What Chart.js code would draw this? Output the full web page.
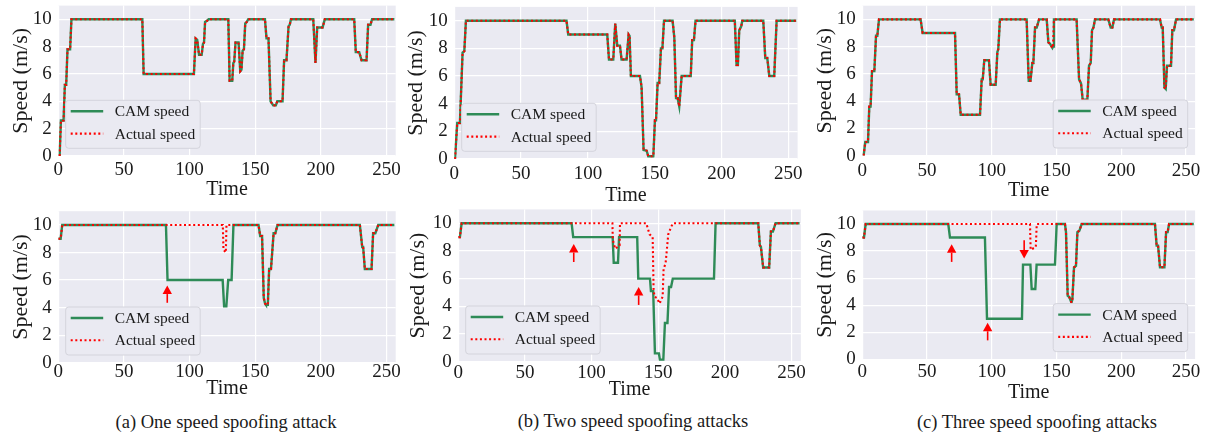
<!DOCTYPE html>
<html>
<head>
<meta charset="utf-8">
<script src="https://cdn.jsdelivr.net/npm/chart.js@4.4.0/dist/chart.umd.min.js"></script>
<style>
  body { margin: 0; background: #fff; width: 1206px; height: 434px; position: relative; overflow: hidden; font-family: "Liberation Serif", serif; }
  canvas { position: absolute; }
  .cap { position: absolute; font-size: 18.5px; color: #1a1a1a; transform: translate(-50%, -50%); white-space: nowrap; }
</style>
</head>
<body>
<div class="cap" style="left:226px;top:422px">(a) One speed spoofing attack</div>
<div class="cap" style="left:633px;top:421px">(b) Two speed spoofing attacks</div>
<div class="cap" style="left:1037px;top:422px">(c) Three speed spoofing attacks</div>
<script>
// tick labels
const timeTicks = [0, 50, 100, 150, 200, 250];
const speedTicks = [0, 2, 4, 6, 8, 10];

// top row: CAM speed and actual speed are the same trace
const topTimeA = [1,2,4,5,6,7,9,10,64,65,103.3,104.6,105.8,107.2,109.2,110.2,111,111.8,113.5,114.5,129.5,130.5,132.5,133.3,134,135,137.3,138.6,139.5,140.4,141.4,142.4,143.5,144.7,157.4,158.6,160.1,161.7,163.7,165.7,166.8,170.8,172,173.8,175.4,176.3,177.2,194.2,195.9,197.2,201.3,203,225.4,226.6,229.2,231,234.8,236,237.8,239,256];
const topSpeedA = [0,2.6,2.6,5.2,5.2,7.8,7.8,10,10,6,6,8.6,8.5,7.4,7.4,8.2,8.3,9.8,9.9,10,10,5.5,5.5,6.8,6.9,8.3,8.3,6.2,6.3,7.7,7.8,9.7,9.8,10,10,8.6,8.6,4.0,3.7,3.7,4.0,4.0,7.0,7.0,9.5,9.6,10,10,6.8,9.4,9.4,10,10,7.6,7.6,7.0,7.0,9.6,9.6,10,10];

const topTimeB = [0.5,2.2,4.2,6.2,7.5,8.7,84,85.3,114.5,115.8,119,120.5,122,124,125.2,129,130.5,131.2,132.2,139,140.2,141.7,144,145.2,149,150.2,151,152.2,153.4,154.7,155.8,157,163.4,164.7,166,167.2,168.4,170.2,177,178.1,179.4,180.6,210,211.3,212.3,213.3,214.8,215.6,231.3,232.8,234.3,235.8,239.5,241.3,256];
const topSpeedB = [0,2.6,2.6,7.7,7.8,10,10,9,9,7.2,7.2,9.8,8.2,8.2,7.2,7.2,9.0,8.9,6.0,6.0,5.2,0.65,0.6,0.2,0.2,2.8,2.8,5.5,5.5,8.0,8.0,10,10,8.8,4.4,4.4,3.8,6,6,8.6,8.6,10,10,6.8,6.8,9.3,9.6,10,10,7.3,7.3,6.0,6.0,10,10];

const topTimeC = [1,2.3,4.4,5.4,6.4,7.5,9.3,10.6,11.6,12.9,45,46.6,71.6,72.9,74.7,76,90.9,92.2,93,94.2,97.8,99.1,103,104.3,105,106.3,126.9,128.5,129.9,131.3,132.1,133.4,134.7,136.5,142.4,143.7,145,146.8,147.3,148,165.5,167.4,168.9,170.2,173.8,175.1,176.4,177.4,178.5,179.7,190,191.8,193.1,194.4,229.9,231.2,232,233.3,234.3,235.3,238.4,239.4,240.7,242.3,256];
const topSpeedC = [0,1.0,1.0,3.6,3.6,6.2,6.2,8.8,8.8,10,10,9,9,4.5,4.5,3.0,3.0,5.6,5.6,7.0,7.0,5.2,5.2,7.6,7.8,10,10,5.5,5.5,6.8,6.8,9.4,9.4,10,10,8.3,8.2,7.9,8.0,10,10,5.6,5.3,4.1,4.1,6.6,6.8,9.2,9.4,10,10,9.4,9.4,10,10,9.4,9.4,5.0,4.9,6.6,6.6,9.2,9.2,10,10];

// bottom row: spoofed CAM speed vs actual speed
const camTimeA = [0,1.8,3,82,83.2,125.2,126.3,128,129.4,132,133.4,152.5,153.8,155.2,156.5,157.5,158.2,159.6,160.6,162,164,165.3,167,229.7,231.5,232.2,233.5,238.6,239.8,241.5,243.7,256];
const camSpeedA = [9,9,10,10,6,6,4.1,4.1,6,6,10,10,9.2,9.2,4.7,4.3,4.2,4.2,6.8,6.8,9.4,9.4,10,10,8.4,8.4,6.8,6.8,9.4,9.4,10,10];
const actTimeA = [0,1.8,3,125.3,125.8,127.6,128.1,152.5,153.8,155.2,156.5,157.5,158.2,159.6,160.6,162,164,165.3,167,229.7,231.5,232.2,233.5,238.6,239.8,241.5,243.7,256];
const actSpeedA = [9,9,10,10,8.2,8.0,10,10,9.2,9.2,4.7,4.3,4.2,4.2,6.8,6.8,9.4,9.4,10,10,8.4,8.4,6.8,6.8,9.4,9.4,10,10];

const camTimeB = [0,1.2,2.5,85,86.2,115.8,116.6,119.8,120.6,134.2,135,143.8,144.5,146.2,147.5,150.5,151.2,153.8,155,156.9,158.1,159.6,160.9,191.8,193,225,226.2,227,228.7,233.2,234.5,236,238,256];
const camSpeedB = [9,9,10,10,9,9,7.15,7.15,9,9,6,6,5.1,5.1,0.6,0.6,0.15,0.15,2.8,2.8,5.4,5.4,6,6,10,10,8.4,8.3,6.8,6.8,9.4,9.4,10,10];
const actTimeB = [0,1.2,2.5,115.6,115.9,117.7,121,121.3,141,143.5,145.8,146.5,147.2,149,151,153.3,154,155.5,157.5,159.5,161,225,226.2,227,228.7,233.2,234.5,236,238,256];
const actSpeedB = [9,9,10,10,8.8,8.15,8.4,10,10,9.2,9.0,5.2,4.7,4.6,4.2,4.7,6.7,7.1,9.2,9.7,10,10,8.4,8.3,6.8,6.8,9.4,9.4,10,10];

const camTimeC = [0,1.3,2.6,66.4,67.7,94.7,96.3,123.3,124.1,129.8,130.8,133.6,134.6,148.8,150.1,156.5,157.3,158.6,159.8,161.5,162.2,163.5,165,166.1,167.6,169.4,226,227.3,228.4,229.9,233.3,234.6,235.8,236.9,256];
const camSpeedC = [9,9,10,10,9,9,3,3,7,7,5.2,5.2,7,7,10,10,9.4,4.7,4.6,4.2,4.4,6.8,6.9,9.4,9.5,10,10,8.4,8.4,6.8,6.8,9.4,9.4,10,10];
const actTimeC = [0,1.3,2.6,129.5,130,134,134.7,156.5,157.3,158.6,159.8,161.5,162.2,163.5,165,166.1,167.6,169.4,226,227.3,228.4,229.9,233.3,234.6,235.8,236.9,256];
const actSpeedC = [9,9,10,10,8.1,8.3,10,10,9.4,4.7,4.6,4.2,4.4,6.8,6.9,9.4,9.5,10,10,8.4,8.4,6.8,6.8,9.4,9.4,10,10];

// attack markers: [time, arrow tail speed, arrow tip speed]
const arrowsA = [[83, 4.35, 5.6]];
const arrowsB = [[86.6, 7.2, 8.5], [135.3, 4.1, 5.4]];
const arrowsC = [[69, 7.2, 8.5], [96.8, 1.4, 2.7], [125, 8.8, 7.45]];

const SERIF = "'Liberation Serif', serif";
const INK = '#1a1a1a';
const GREEN = '#2e8b57';
const RED = '#ff0000';
const T_MAX = 257, V_MAX = 11;

Chart.defaults.font.family = SERIF;
Chart.defaults.color = INK;

const pts = (t, v) => t.map((x, i) => ({x, y: v[i]}));

// plot-area geometry of each sub figure in page pixels
const panels = [
  {l:58.3,  r:395.7,  t:5.6,   b:156,   tickPad:2.6,  timeOff:34,   ytOff:36.6, side:'left',  cam:[topTimeA, topSpeedA], act:[topTimeA, topSpeedA], arrows:[]},
  {l:454.3, r:797.6,  t:6.9,   b:159,   tickPad:3.8,  timeOff:37,   ytOff:37.6, side:'left',  cam:[topTimeB, topSpeedB], act:[topTimeB, topSpeedB], arrows:[]},
  {l:862.3, r:1195.1, t:5.7,   b:155.7, tickPad:3.7,  timeOff:35.1, ytOff:37.3, side:'right', cam:[topTimeC, topSpeedC], act:[topTimeC, topSpeedC], arrows:[]},
  {l:58.3,  r:395.7,  t:211.2, b:362.7, tickPad:-2.4, timeOff:25.6, ytOff:36.6, side:'left',  cam:[camTimeA, camSpeedA], act:[actTimeA, actSpeedA], arrows:arrowsA},
  {l:458.3, r:800.9,  t:209.4, b:361.7, tickPad:0.2,  timeOff:28.3, ytOff:40,   side:'left',  cam:[camTimeB, camSpeedB], act:[actTimeB, actSpeedB], arrows:arrowsB},
  {l:862.3, r:1195.1, t:210.5, b:359.3, tickPad:1.8,  timeOff:33.2, ytOff:37.3, side:'right', cam:[camTimeC, camSpeedC], act:[actTimeC, actSpeedC], arrows:arrowsC},
];

const bgPlugin = {
  id: 'bg',
  beforeDraw(chart) {
    const {ctx, chartArea: a} = chart;
    ctx.save(); ctx.fillStyle = '#eaeaf2';
    ctx.fillRect(a.left, a.top, a.right - a.left, a.bottom - a.top);
    ctx.restore();
  }
};

function arrowPlugin(list) {
  return {
    id: 'arrows',
    afterDatasetsDraw(chart) {
      const {ctx, scales: {x, y}} = chart;
      ctx.save(); ctx.strokeStyle = RED; ctx.fillStyle = RED; ctx.lineWidth = 1.6;
      for (const [t, from, to] of list) {
        const px = x.getPixelForValue(t), y1 = y.getPixelForValue(from), y2 = y.getPixelForValue(to);
        const dir = Math.sign(y2 - y1), head = 8.5;
        ctx.beginPath(); ctx.moveTo(px, y1); ctx.lineTo(px, y2 - dir * head); ctx.stroke();
        ctx.beginPath(); ctx.moveTo(px, y2); ctx.lineTo(px - 4.7, y2 - dir * head); ctx.lineTo(px + 4.7, y2 - dir * head); ctx.closePath(); ctx.fill();
      }
      ctx.restore();
    }
  };
}

function legendPlugin(side) {
  return {
    id: 'insetLegend',
    afterDraw(chart) {
      const {ctx, chartArea: a} = chart;
      const ds = chart.data.datasets;
      ctx.save();
      ctx.font = '15.5px ' + SERIF;
      const tw = Math.max(...ds.map(d => ctx.measureText(d.label).width));
      const w = 49 + tw + 5, h = 48;
      const x0 = side === 'left' ? a.left + 7.4 : a.right - 7.4 - w;
      const y0 = a.bottom - 7.7 - h;
      ctx.beginPath(); ctx.roundRect(x0, y0, w, h, 3);
      ctx.fillStyle = '#eaeaf2'; ctx.fill();
      ctx.strokeStyle = '#d4d4dc'; ctx.lineWidth = 1; ctx.stroke();
      ds.forEach((d, i) => {
        const yy = y0 + 11 + i * 22.3;
        ctx.beginPath(); ctx.setLineDash(d.borderDash || []);
        ctx.strokeStyle = d.borderColor; ctx.lineWidth = d.borderWidth;
        ctx.moveTo(x0 + 5, yy); ctx.lineTo(x0 + 37.5, yy); ctx.stroke();
        ctx.setLineDash([]);
        ctx.fillStyle = INK; ctx.textBaseline = 'middle'; ctx.textAlign = 'left';
        ctx.fillText(d.label, x0 + 49, yy + 1);
      });
      ctx.restore();
    }
  };
}

function makePanel(p) {
  const cv = document.createElement('canvas');
  const left = Math.floor(p.l) - 60, top = Math.floor(p.t) - 6;
  const right = Math.ceil(p.r) + 14, bottom = Math.ceil(p.b + p.timeOff + 14);
  const W = right - left, H = bottom - top;
  cv.width = W; cv.height = H;
  cv.style.left = left + 'px'; cv.style.top = top + 'px';
  cv.style.width = W + 'px'; cv.style.height = H + 'px';
  document.body.appendChild(cv);
  const YW = p.l - left, XH = bottom - p.b;
  // drop the label overhang padding so the plot area lands exactly where planned
  const noPad = s => { s.paddingTop = 0; s.paddingBottom = 0; s.paddingLeft = 0; s.paddingRight = 0; };
  new Chart(cv, {
    type: 'line',
    data: {
      datasets: [
        {label: 'CAM speed', data: pts(...p.cam), borderColor: GREEN, borderWidth: 2.4, pointRadius: 0, tension: 0, order: 1},
        {label: 'Actual speed', data: pts(...p.act), borderColor: RED, borderWidth: 2.1, borderDash: [2, 2.6], pointRadius: 0, tension: 0, order: 0}
      ]
    },
    options: {
      responsive: false, animation: false, events: [],
      layout: {padding: {top: p.t - top, right: right - p.r, left: 0, bottom: 0}},
      scales: {
        x: {
          type: 'linear', min: 0, max: T_MAX,
          afterBuildTicks: s => { s.ticks = timeTicks.map(v => ({value: v})); },
          afterFit: s => { s.height = XH; noPad(s); },
          grid: {color: '#fff', lineWidth: 1.2, drawTicks: false},
          border: {display: false},
          ticks: {font: {family: SERIF, size: 19}, color: INK, padding: p.tickPad, maxRotation: 0, autoSkip: false},
          title: {display: true, text: 'Time', font: {family: SERIF, size: 20}, color: INK, padding: {top: 0, bottom: XH - p.timeOff - 12}}
        },
        y: {
          type: 'linear', min: 0, max: V_MAX,
          afterBuildTicks: s => { s.ticks = speedTicks.map(v => ({value: v})); },
          afterFit: s => { s.width = YW; noPad(s); },
          grid: {color: '#fff', lineWidth: 1.2, drawTicks: false},
          border: {display: false},
          ticks: {font: {family: SERIF, size: 19}, color: INK, padding: 6.6},
          title: {display: true, text: 'Speed (m/s)', font: {family: SERIF, size: 22}, color: INK, padding: {top: YW - p.ytOff - 13.2, bottom: 0}}
        }
      },
      plugins: {legend: {display: false}, tooltip: {enabled: false}}
    },
    plugins: [bgPlugin, arrowPlugin(p.arrows), legendPlugin(p.side)]
  });
}

panels.forEach(makePanel);
</script>
</body>
</html>
